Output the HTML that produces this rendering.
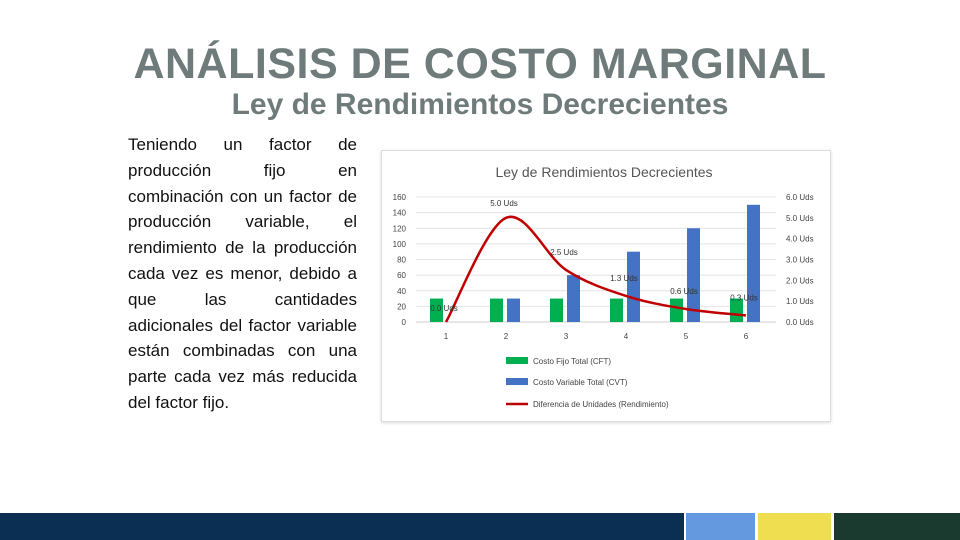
<!DOCTYPE html>
<html><head><meta charset="utf-8"><style>
body{margin:0;width:960px;height:540px;position:relative;background:#fff;font-family:"Liberation Sans",sans-serif;overflow:hidden}
#t1{position:absolute;left:0;width:960px;top:40px;text-align:center;font-size:43px;font-weight:bold;color:#6f7b7b;letter-spacing:0.5px}
#t2{position:absolute;left:0;width:960px;top:88px;text-align:center;font-size:30px;font-weight:bold;color:#6f7b7b}
#para{position:absolute;left:128px;top:132px;width:229px;font-size:17px;line-height:25.8px;text-align:justify;color:#111}
#chartbox{position:absolute;left:381px;top:150px;width:448px;height:270px;border:1px solid #ddd;box-shadow:0 1px 3px rgba(0,0,0,.15);background:#fff}
.bar{position:absolute;top:513px;height:27px}
</style></head><body>
<div id="t1">ANÁLISIS DE COSTO MARGINAL</div>
<div id="t2">Ley de Rendimientos Decrecientes</div>
<div id="para">Teniendo un factor de producción fijo en combinación con un factor de producción variable, el rendimiento de la producción cada vez es menor, debido a que las cantidades adicionales del factor variable están combinadas con una parte cada vez más reducida del factor fijo.</div>
<div id="chartbox"></div>
<svg id="chart" width="960" height="540" style="position:absolute;left:0;top:0" font-family="Liberation Sans, sans-serif"></svg>
<div class="bar" style="left:0;width:684px;background:#0b2f52"></div>
<div class="bar" style="left:686px;width:69px;background:#6499df"></div>
<div class="bar" style="left:758px;width:73px;background:#efdf50"></div>
<div class="bar" style="left:834px;width:126px;background:#1a3a30"></div>
<script>
const categories=["1","2","3","4","5","6"];
const cft=[30,30,30,30,30,30];
const cvt=[0,30,60,90,120,150];
const rend=[0,5.0,2.5,1.25,0.625,0.3125];
const rendLabels=["0.0 Uds","5.0 Uds","2.5 Uds","1.3 Uds","0.6 Uds","0.3 Uds"];
const leftTicks=[0,20,40,60,80,100,120,140,160];
const rightTicks=[0,1,2,3,4,5,6];
const NS="http://www.w3.org/2000/svg";
const svg=document.getElementById('chart');
const y0=322,y1=197,xL=416,xR=776;
const yL=v=>y0-(v/160)*(y0-y1);
const yR=v=>y0-(v/6)*(y0-y1);
const xC=i=>446+i*60;
function mk(tag,attrs,txt){const e=document.createElementNS(NS,tag);for(const k in attrs)e.setAttribute(k,attrs[k]);if(txt!==undefined)e.textContent=txt;svg.appendChild(e);return e;}
let e=mk('text',{x:604,y:177,'text-anchor':'middle','font-size':14,fill:'#555'},'Ley de Rendimientos Decrecientes');


leftTicks.forEach(v=>{
 let g=mk('line',{x1:xL,x2:xR,y1:yL(v),y2:yL(v),stroke:v?'#e4e4e4':'#cfcfcf','stroke-width':1});
 
 
 let t=mk('text',{x:406,y:yL(v)+3,'text-anchor':'end','font-size':8,fill:'#444'},String(v));
 
 
});
rightTicks.forEach(v=>{
 let t=mk('text',{x:786,y:yR(v)+3,'font-size':8,fill:'#444'},v.toFixed(1)+' Uds');
 
 
});
categories.forEach((c,i)=>{
 let t=mk('text',{x:xC(i),y:339,'text-anchor':'middle','font-size':8,fill:'#444'},c);
 
 
 let b=mk('rect',{x:xC(i)-16,y:yL(cft[i]),width:13,height:y0-yL(cft[i]),fill:'#00b050'});
 
 
 if(cvt[i]>0){let b2=mk('rect',{x:xC(i)+1,y:yL(cvt[i]),width:13,height:y0-yL(cvt[i]),fill:'#4472c4'});
 
 }
});
const pts=rend.map((v,i)=>[xC(i),yR(v)]);
let d='M'+pts[0][0]+','+pts[0][1];
for(let i=0;i<pts.length-1;i++){
 const p0=pts[Math.max(0,i-1)],p1=pts[i],p2=pts[i+1],p3=pts[Math.min(pts.length-1,i+2)];
 const t=0.5/3*2;
 d+=` C${p1[0]+(p2[0]-p0[0])*t/2},${p1[1]+(p2[1]-p0[1])*t/2} ${p2[0]-(p3[0]-p1[0])*t/2},${p2[1]-(p3[1]-p1[1])*t/2} ${p2[0]},${p2[1]}`;
}
e=mk('path',{d:d,fill:'none',stroke:'#c00000','stroke-width':2.5});


rend.forEach((v,i)=>{
 const dy=i===1?-12:-15;
 let t=mk('text',{x:xC(i)-2,y:yR(v)+(i===0?-11:dy),'text-anchor':'middle','font-size':8,fill:'#333'},rendLabels[i]);
 
 
});
const leg=[['rect','#00b050','Costo Fijo Total (CFT)',361],['rect','#4472c4','Costo Variable Total (CVT)',382],['line','#c00000','Diferencia de Unidades (Rendimiento)',404]];
leg.forEach(l=>{
 let s=l[0]==='rect'?mk('rect',{x:506,y:l[3]-4,width:22,height:7,fill:l[1]}):mk('line',{x1:506,x2:528,y1:l[3],y2:l[3],stroke:l[1],'stroke-width':2.5});
 
 
 let t=mk('text',{x:533,y:l[3]+3,'font-size':8,fill:'#444'},l[2]);
 
 
});
</script>
</body></html>
